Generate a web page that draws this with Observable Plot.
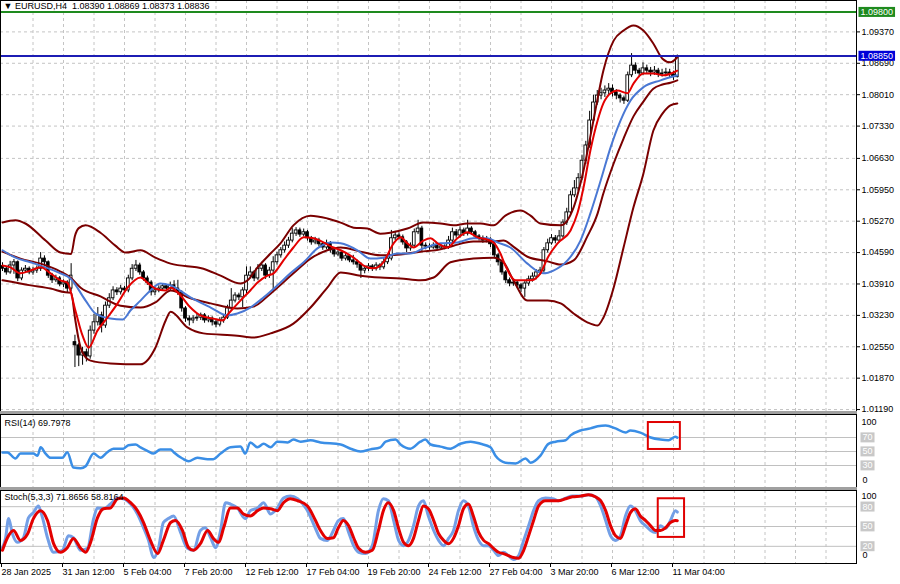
<!DOCTYPE html>
<html><head><meta charset="utf-8">
<script src="https://cdn.jsdelivr.net/npm/d3@7"></script>
<script src="https://cdn.jsdelivr.net/npm/@observablehq/plot@0.6"></script>
<style>
body{margin:0;background:#fff;}
#chart{position:relative;width:900px;height:584px;overflow:hidden;background:#fff;font-family:"Liberation Sans",Arial,sans-serif;}
#chart svg{position:absolute;left:0;}
.sep{position:absolute;left:0;width:857px;height:3px;background:#a0a0a0;}
</style></head><body><div id="chart"></div>
<script>
// ---------- DATA ----------
const titleText = "\u25BC EURUSD,H4\u00a0\u00a01.08390 1.08869 1.08373 1.08836";
const rsiTitle = "RSI(14) 69.7978";
const stochTitle = "Stoch(5,3,3) 71.8656 58.8164";

const priceTicks = [1.0119,1.0187,1.0255,1.0323,1.0391,1.0459,1.0527,1.0595,1.0663,1.0733,1.0801,1.0869,1.0937];
const labelBars = [0,16,32,48,64,80,96,112,128,144,160,176];
const timeLabels = ["28 Jan 2025","31 Jan 12:00","5 Feb 04:00","7 Feb 20:00","12 Feb 12:00","17 Feb 04:00","19 Feb 20:00","24 Feb 12:00","27 Feb 04:00","3 Mar 20:00","6 Mar 12:00","11 Mar 04:00"];
const gridBars = [8,16,24,32,40,48,56,64,72,80,88,96,104,112,120,128,136,144,152,160,168,176,184,192,200,208,216];

const levelLines = [{v:1.0980,label:"1.09800",color:"#1e8a1e"},{v:1.0885,label:"1.08850",color:"#1c1cb4"}];
const labelBoxColors = {"1.09800":"#1e8a1e","1.08850":"#0000d8"};

const opens = [
1.0430,1.0424,1.0416,1.0431,1.0438,1.0403,1.0420,1.0424,1.0416,1.0420,
1.0424,1.0446,1.0438,1.0409,1.0399,1.0403,1.0390,1.0394,1.0381,1.0265,
1.0258,1.0236,1.0243,1.0234,1.0290,1.0308,1.0323,1.0301,1.0344,1.0360,
1.0377,1.0373,1.0381,1.0377,1.0403,1.0424,1.0431,1.0416,1.0403,1.0394,
1.0373,1.0377,1.0381,1.0386,1.0381,1.0388,1.0381,1.0373,1.0338,1.0316,
1.0312,1.0316,1.0318,1.0323,1.0312,1.0316,1.0308,1.0303,1.0312,1.0318,
1.0338,1.0355,1.0366,1.0362,1.0377,1.0409,1.0416,1.0403,1.0424,1.0431,
1.0409,1.0420,1.0438,1.0453,1.0464,1.0474,1.0485,1.0500,1.0507,1.0498,
1.0503,1.0490,1.0481,1.0485,1.0477,1.0470,1.0479,1.0464,1.0455,1.0459,
1.0446,1.0451,1.0442,1.0438,1.0433,1.0420,1.0424,1.0429,1.0424,1.0431,
1.0427,1.0438,1.0446,1.0490,1.0496,1.0492,1.0481,1.0468,1.0474,1.0503,
1.0511,1.0474,1.0472,1.0470,1.0474,1.0468,1.0472,1.0470,1.0485,1.0503,
1.0496,1.0507,1.0500,1.0511,1.0503,1.0494,1.0490,1.0485,1.0487,1.0477,
1.0453,1.0438,1.0416,1.0399,1.0392,1.0394,1.0388,1.0381,1.0392,1.0401,
1.0407,1.0416,1.0420,1.0464,1.0479,1.0490,1.0485,1.0494,1.0524,1.0546,
1.0583,1.0598,1.0620,1.0658,1.0691,1.0745,1.0784,1.0799,1.0804,1.0810,
1.0814,1.0806,1.0799,1.0793,1.0788,1.0843,1.0864,1.0853,1.0847,1.0858,
1.0853,1.0849,1.0853,1.0845,1.0847,1.0849,1.0845,1.0839];
const highs = [
1.0437,1.0429,1.0440,1.0444,1.0441,1.0426,1.0431,1.0428,1.0427,1.0430,
1.0459,1.0452,1.0441,1.0414,1.0410,1.0407,1.0400,1.0398,1.0435,1.0280,
1.0262,1.0254,1.0250,1.0300,1.0325,1.0340,1.0330,1.0352,1.0370,1.0385,
1.0383,1.0388,1.0386,1.0410,1.0433,1.0442,1.0436,1.0420,1.0408,1.0398,
1.0384,1.0387,1.0392,1.0390,1.0395,1.0398,1.0399,1.0376,1.0342,1.0322,
1.0322,1.0326,1.0328,1.0327,1.0322,1.0320,1.0313,1.0318,1.0324,1.0345,
1.0381,1.0372,1.0371,1.0383,1.0428,1.0428,1.0420,1.0433,1.0438,1.0435,
1.0427,1.0450,1.0460,1.0470,1.0482,1.0492,1.0511,1.0513,1.0512,1.0510,
1.0507,1.0494,1.0492,1.0490,1.0481,1.0486,1.0483,1.0468,1.0465,1.0463,
1.0458,1.0455,1.0453,1.0443,1.0437,1.0431,1.0435,1.0433,1.0437,1.0435,
1.0446,1.0455,1.0507,1.0505,1.0502,1.0497,1.0485,1.0480,1.0510,1.0529,
1.0516,1.0480,1.0478,1.0480,1.0478,1.0477,1.0476,1.0494,1.0512,1.0509,
1.0515,1.0512,1.0529,1.0515,1.0507,1.0498,1.0495,1.0494,1.0491,1.0481,
1.0457,1.0442,1.0420,1.0404,1.0401,1.0398,1.0392,1.0398,1.0408,1.0415,
1.0422,1.0427,1.0470,1.0488,1.0498,1.0496,1.0507,1.0530,1.0555,1.0592,
1.0615,1.0630,1.0670,1.0700,1.0765,1.0800,1.0810,1.0815,1.0820,1.0825,
1.0822,1.0812,1.0803,1.0798,1.0850,1.0890,1.0870,1.0858,1.0870,1.0865,
1.0860,1.0862,1.0858,1.0856,1.0858,1.0856,1.0852,1.08869];
const lows = [
1.0418,1.0410,1.0412,1.0412,1.0396,1.0398,1.0414,1.0411,1.0410,1.0414,
1.0418,1.0430,1.0403,1.0392,1.0394,1.0385,1.0383,1.0372,1.0375,1.0210,
1.0212,1.0215,1.0222,1.0228,1.0282,1.0300,1.0285,1.0295,1.0338,1.0355,
1.0366,1.0367,1.0370,1.0372,1.0398,1.0418,1.0410,1.0397,1.0388,1.0365,
1.0366,1.0372,1.0376,1.0375,1.0376,1.0375,1.0366,1.0330,1.0308,1.0300,
1.0305,1.0310,1.0312,1.0306,1.0307,1.0300,1.0296,1.0298,1.0306,1.0314,
1.0333,1.0350,1.0355,1.0340,1.0370,1.0402,1.0396,1.0398,1.0418,1.0401,
1.0403,1.0372,1.0432,1.0447,1.0458,1.0468,1.0480,1.0494,1.0492,1.0493,
1.0484,1.0475,1.0476,1.0471,1.0464,1.0465,1.0458,1.0449,1.0450,1.0440,
1.0441,1.0437,1.0432,1.0425,1.0403,1.0413,1.0418,1.0418,1.0419,1.0420,
1.0422,1.0433,1.0441,1.0485,1.0486,1.0475,1.0459,1.0462,1.0470,1.0498,
1.0460,1.0465,1.0464,1.0466,1.0463,1.0464,1.0465,1.0466,1.0480,1.0490,
1.0490,1.0494,1.0495,1.0497,1.0488,1.0484,1.0479,1.0480,1.0470,1.0446,
1.0430,1.0410,1.0392,1.0385,1.0386,1.0381,1.0372,1.0362,1.0386,1.0395,
1.0400,1.0410,1.0415,1.0458,1.0475,1.0478,1.0480,1.0490,1.0518,1.0540,
1.0578,1.0592,1.0615,1.0650,1.0685,1.0740,1.0778,1.0790,1.0795,1.0800,
1.0796,1.0790,1.0783,1.0780,1.0784,1.0838,1.0845,1.0838,1.0842,1.0846,
1.0840,1.0843,1.0838,1.0839,1.0840,1.0838,1.0832,1.08373];
const closes = [
1.0424,1.0416,1.0431,1.0438,1.0403,1.0420,1.0424,1.0416,1.0420,1.0424,
1.0446,1.0438,1.0409,1.0399,1.0403,1.0390,1.0394,1.0381,1.0409,1.0258,
1.0236,1.0243,1.0234,1.0290,1.0308,1.0323,1.0301,1.0344,1.0360,1.0377,
1.0373,1.0381,1.0377,1.0403,1.0424,1.0431,1.0416,1.0403,1.0394,1.0373,
1.0377,1.0381,1.0386,1.0381,1.0388,1.0381,1.0373,1.0338,1.0316,1.0312,
1.0316,1.0318,1.0323,1.0312,1.0316,1.0308,1.0303,1.0312,1.0318,1.0338,
1.0355,1.0366,1.0362,1.0377,1.0409,1.0416,1.0403,1.0424,1.0431,1.0409,
1.0420,1.0438,1.0453,1.0464,1.0474,1.0485,1.0500,1.0507,1.0498,1.0503,
1.0490,1.0481,1.0485,1.0477,1.0470,1.0479,1.0464,1.0455,1.0459,1.0446,
1.0451,1.0442,1.0438,1.0433,1.0420,1.0424,1.0429,1.0424,1.0431,1.0427,
1.0438,1.0446,1.0490,1.0496,1.0492,1.0481,1.0468,1.0474,1.0503,1.0511,
1.0474,1.0472,1.0470,1.0474,1.0468,1.0472,1.0470,1.0485,1.0503,1.0496,
1.0507,1.0500,1.0511,1.0503,1.0494,1.0490,1.0485,1.0487,1.0477,1.0453,
1.0438,1.0416,1.0399,1.0392,1.0394,1.0388,1.0381,1.0392,1.0401,1.0407,
1.0416,1.0420,1.0464,1.0479,1.0490,1.0485,1.0494,1.0524,1.0546,1.0583,
1.0598,1.0620,1.0658,1.0691,1.0745,1.0784,1.0799,1.0804,1.0810,1.0814,
1.0806,1.0799,1.0793,1.0788,1.0843,1.0864,1.0853,1.0847,1.0858,1.0853,
1.0849,1.0853,1.0845,1.0847,1.0849,1.0845,1.0839,1.08836];

// indicator lines: [bar, value]
const bbUpper = [[0,1.0524],[3.4,1.0529],[6,1.0522],[11.3,1.0485],[15.2,1.0459],[18,1.0456],[19,1.0495],[20,1.0512],[21.8,1.0518],[25.7,1.0502],[29.6,1.0474],[32.3,1.0459],[36.2,1.0464],[40.1,1.0448],[44.1,1.0435],[52.7,1.0424],[57.2,1.0409],[62.4,1.0392],[64.3,1.0399],[66.9,1.0427],[70.3,1.0457],[72.9,1.0479],[76.3,1.0518],[80.8,1.0539],[85.2,1.0533],[88.7,1.0524],[92.1,1.0513],[95.7,1.0511],[99.1,1.0500],[101.7,1.0502],[106.2,1.0511],[110.4,1.0524],[114.9,1.0522],[118.3,1.0518],[121.9,1.0522],[125.4,1.0522],[128.8,1.0518],[131.9,1.0539],[135.9,1.0550],[138.5,1.0539],[141.1,1.0522],[146.4,1.0518],[149.8,1.0557],[152.4,1.0637],[155,1.0745],[157.6,1.0853],[160.3,1.0918],[162.9,1.0940],[165.5,1.0951],[168.1,1.0940],[170.7,1.0912],[173.1,1.0879],[175.2,1.0871],[177,1.0882]];
const bbMiddle = [[0,1.0461],[4.7,1.0446],[10,1.0435],[15.2,1.0418],[17.8,1.0405],[20.5,1.0383],[25.7,1.0364],[31,1.0344],[36.2,1.0340],[40.1,1.0351],[44.1,1.0377],[49.3,1.0360],[54.6,1.0349],[61.6,1.0338],[65.8,1.0342],[70.3,1.0370],[76.3,1.0414],[80.8,1.0446],[85.2,1.0464],[88.7,1.0470],[93.9,1.0461],[99.1,1.0453],[104.4,1.0455],[109.6,1.0461],[114.9,1.0466],[118.3,1.0474],[123.5,1.0483],[128.8,1.0483],[131.4,1.0485],[134,1.0472],[137.7,1.0450],[143,1.0440],[146.4,1.0433],[149.8,1.0442],[153.4,1.0494],[156.1,1.0544],[157.6,1.0587],[160.3,1.0652],[162.9,1.0706],[165.5,1.0754],[168.1,1.0786],[170.7,1.0814],[173.1,1.0823],[175.2,1.0827],[177,1.0832]];
const bbLower = [[0,1.0399],[7.4,1.0388],[12.6,1.0381],[16.5,1.0373],[18,1.0372],[19,1.0318],[20,1.0270],[21,1.0242],[23.1,1.0225],[28.3,1.0219],[36.2,1.0217],[40.1,1.0253],[42.8,1.0312],[44.1,1.0331],[48.5,1.0297],[52.7,1.0284],[61.6,1.0279],[65.8,1.0275],[70.3,1.0284],[76.3,1.0305],[80.8,1.0340],[85.2,1.0383],[88.7,1.0416],[93.9,1.0409],[99.1,1.0405],[104.4,1.0403],[109.6,1.0399],[113.1,1.0405],[117.5,1.0438],[123.5,1.0446],[128.8,1.0448],[131.4,1.0438],[134,1.0399],[137.7,1.0355],[143,1.0355],[146.4,1.0349],[149.8,1.0327],[153.4,1.0308],[156.1,1.0301],[157.6,1.0318],[160.3,1.0383],[162.9,1.0470],[165.5,1.0557],[168.1,1.0630],[170.7,1.0723],[173.1,1.0760],[175.2,1.0778],[177,1.0782]];
const redMA = [[0,1.0431],[2.1,1.0427],[4.7,1.0414],[7.3,1.0420],[10,1.0427],[12.6,1.0414],[15.2,1.0399],[17,1.0394],[19.1,1.0334],[21,1.0279],[22.6,1.0253],[24.9,1.0290],[27.5,1.0318],[30.2,1.0349],[32.8,1.0383],[36.2,1.0405],[38,1.0394],[40.1,1.0381],[42.8,1.0377],[44.1,1.0383],[46.7,1.0366],[49.3,1.0340],[51.9,1.0323],[55.3,1.0316],[57.7,1.0312],[59.3,1.0327],[62.4,1.0355],[65,1.0377],[66.9,1.0394],[69.5,1.0409],[71.1,1.0414],[73.7,1.0442],[76.3,1.0470],[79,1.0492],[81.6,1.0490],[84.2,1.0481],[86.8,1.0470],[88.7,1.0464],[92.1,1.0448],[94.7,1.0431],[97.3,1.0425],[99.9,1.0438],[102.6,1.0479],[104.4,1.0492],[106.2,1.0479],[107.8,1.0470],[110.4,1.0485],[112.3,1.0490],[114.1,1.0479],[116.7,1.0470],[119.3,1.0490],[122,1.0503],[124.6,1.0492],[127.2,1.0487],[128.8,1.0481],[130.6,1.0457],[131.9,1.0431],[134.6,1.0399],[138.5,1.0399],[141.1,1.0414],[143,1.0448],[145.6,1.0479],[149,1.0507],[150.8,1.0544],[152.4,1.0600],[154.2,1.0680],[156.1,1.0745],[157.6,1.0782],[159.5,1.0804],[161.3,1.0810],[163.9,1.0804],[165.5,1.0825],[168.1,1.0847],[170.7,1.0847],[173.4,1.0843],[176,1.0849],[177,1.0853]];
const blueMA = [[0,1.0464],[3.4,1.0448],[7.3,1.0438],[11.3,1.0427],[15.2,1.0414],[17.8,1.0403],[21.8,1.0355],[24.4,1.0327],[28.3,1.0316],[31.5,1.0314],[33.6,1.0334],[36.2,1.0355],[38.8,1.0377],[41.4,1.0392],[44.1,1.0388],[49.3,1.0362],[54.6,1.0340],[59,1.0323],[61.6,1.0327],[65,1.0340],[68.5,1.0362],[72.1,1.0388],[75.5,1.0414],[79,1.0438],[82.6,1.0468],[86,1.0481],[88.7,1.0479],[93.1,1.0464],[96.5,1.0446],[99.9,1.0448],[103.6,1.0457],[107,1.0457],[110.4,1.0468],[114.9,1.0479],[119.3,1.0481],[123.5,1.0490],[127.2,1.0490],[129.8,1.0481],[133.2,1.0470],[137.7,1.0435],[141.9,1.0414],[144.5,1.0420],[148.2,1.0442],[151.6,1.0485],[154.2,1.0544],[156.9,1.0615],[159.5,1.0687],[162.1,1.0745],[164.7,1.0788],[168.1,1.0817],[172.6,1.0832],[177,1.0843]];

const rsiLevels = [30,50,70];
const rsi = [[0,48.6],[1.3,48.6],[3.4,40],[4.7,47],[8.1,47],[9.2,44],[10,56],[11.3,47],[12.6,41],[15.7,41],[17,49],[18.6,27],[20.5,26],[21.8,29],[23.9,47],[25.7,41],[27.5,49],[29.1,54],[31.7,54],[33,59],[34.9,60],[36.2,56],[38,51],[39.6,47],[41.4,53],[44.1,53],[44.9,49],[47.2,40],[48.8,36],[51.1,41],[53.8,39],[55.3,39],[57.2,47],[59.8,56],[62.4,57],[63.7,47],[65,63],[66.9,56],[68.5,61],[70.3,56],[72.1,64],[74.8,63],[76.3,67],[78.2,64],[80.8,66],[83.4,63],[88.7,60],[91.3,54],[93.9,50],[96.5,53],[99.1,56],[100.5,64],[103.1,67],[104.4,60],[107,54],[109.6,64],[110.9,67],[112.3,60],[114.9,57],[117.5,54],[120.1,61],[122.8,64],[125.4,61],[128,56],[129.3,44],[130.6,37],[131.9,34],[134.6,33],[137.2,40],[138.5,34],[141.1,44],[143.2,61],[145.1,64],[147.7,66],[149,73],[151.6,80],[154.2,83],[156.1,86],[158.2,87],[160.8,83],[163.4,77],[164.7,80],[167.3,77],[170,70],[172.6,67],[174.7,66],[176.5,71],[177,69.8]];

const stochLevels = [20,50,80];
const stochK = [[0,18],[0.8,32],[1.6,62],[2.6,39],[3.9,26],[5.5,33],[6.8,63],[8.1,71],[9.4,81],[10.5,63],[11.8,33],[13.4,11],[15.7,14],[17.3,36],[18.6,33],[20.5,14],[22.3,17],[23.9,62],[24.9,78],[26.5,77],[28.3,84],[30.2,93],[31.7,92],[33.6,84],[35.4,69],[37,48],[38.3,29],[39.6,3],[40.9,17],[42.2,56],[43.5,62],[44.9,66],[46.7,41],[48.5,17],[50.1,14],[51.9,44],[53.2,48],[54.6,33],[55.9,18],[57.2,44],[58.5,86],[59.8,84],[61.6,78],[63.7,62],[65,74],[66.9,78],[68.5,86],[70.3,69],[72.1,78],[73.7,93],[75.5,96],[77.4,92],[80,74],[82.1,47],[83.4,32],[85.2,29],[86.8,44],[88.1,59],[89.4,62],[90.8,41],[92.1,21],[93.4,11],[95.2,9],[97,21],[98.6,74],[99.9,92],[101.2,89],[102.6,59],[103.9,29],[105.2,21],[106.5,29],[107.8,51],[109.1,81],[110.4,89],[111.7,66],[113.1,44],[114.4,29],[115.7,21],[117,32],[118.3,44],[119.6,74],[120.9,89],[122.2,81],[123.5,51],[124.9,29],[126.2,21],[127.5,21],[128.8,14],[130.1,6],[131.4,11],[132.7,6],[134,0],[135.4,6],[136.7,29],[138,51],[139.3,74],[140.6,89],[142.4,93],[144.3,92],[145.8,89],[147.7,93],[149.5,96],[151.6,96],[153.7,98],[155.5,95],[156.9,81],[158.2,59],[159.5,36],[160.8,29],[162.1,36],[163.4,66],[164.7,81],[166,74],[167.3,59],[168.7,51],[170,44],[171.3,41],[172.6,51],[173.9,47],[175.2,59],[176.5,74],[177,71.9]];
const stochD = [[0,14],[1.3,33],[2.9,44],[4.7,29],[6.6,39],[8.1,62],[10,74],[11.8,59],[13.4,24],[15.2,11],[17,18],[18.6,32],[20.5,17],[21.8,11],[23.1,26],[24.9,63],[26.5,77],[28.3,78],[30.2,92],[31.7,93],[33.6,86],[35.4,74],[37,56],[38.8,29],[40.7,9],[42.2,29],[44.1,56],[45.4,59],[47.2,44],[48.8,18],[50.1,14],[51.9,24],[53.8,44],[55.3,32],[56.7,26],[58,48],[59.8,78],[61.6,78],[63.2,69],[65,66],[66.9,74],[68.5,78],[70.3,77],[72.1,74],[73.7,86],[75.5,92],[77.4,89],[80,81],[82.1,59],[83.4,44],[85.2,32],[86.8,33],[88.1,48],[89.4,59],[90.8,51],[92.1,33],[93.4,17],[95.2,11],[97,14],[98.6,44],[99.9,74],[101.2,86],[102.6,74],[103.9,47],[105.2,26],[106.5,21],[107.8,32],[109.1,59],[110.4,81],[111.7,77],[113.1,59],[114.4,39],[115.7,29],[117,24],[118.3,32],[119.6,51],[120.9,77],[122.2,84],[123.5,66],[124.9,41],[126.2,29],[127.5,24],[128.8,17],[130.1,11],[131.4,9],[132.7,6],[134,3],[135.4,2],[136.7,14],[138,36],[139.3,59],[140.6,81],[142.4,89],[144.3,89],[145.8,89],[147.7,92],[149.5,95],[151.6,96],[153.7,98],[155.5,95],[156.9,89],[158.2,74],[159.5,51],[160.8,36],[162.1,32],[163.4,51],[164.7,71],[166,77],[167.3,66],[168.7,59],[170,51],[171.3,44],[172.6,44],[173.9,48],[175.2,56],[176.5,59],[177,58.8]];

const rsiHighlight = [{x1:169.4,x2:177.8,y1:52.9,y2:91.4}];
const stochHighlight = [{x1:172,x2:178.9,y1:33.5,y2:92}];

// ---------- CHART ----------
const X_DOMAIN = [-0.525, 224];
const FONT = "'Liberation Sans', Arial, sans-serif";
const GRID = {stroke:"#c4c4c4", strokeOpacity:1, strokeDasharray:"3,3", strokeWidth:1};
const pts = arr => arr.map(([b,v]) => ({b, v}));
const candles = closes.map((c,i) => ({i, o:opens[i], h:highs[i], l:lows[i], c}));
const labelMap = new Map(labelBars.map((b,k) => [b, timeLabels[k]]));
const baseStyle = {background:"white", fontFamily:FONT, fontSize:"9px", overflow:"visible", color:"black"};

const main = Plot.plot({
  width:900, height:411, marginLeft:0, marginRight:44, marginTop:0, marginBottom:0,
  style: baseStyle,
  x:{domain:X_DOMAIN, axis:null},
  y:{domain:[1.01148, 1.1005], axis:null},
  marks:[
    Plot.gridY(priceTicks, GRID),
    Plot.gridX(gridBars, GRID),
    Plot.ruleX(candles, {x:"i", y1:"l", y2:"h", stroke:"black", strokeWidth:1}),
    Plot.rect(candles, {x1:d=>d.i-0.36, x2:d=>d.i+0.36, y1:d=>Math.min(d.o,d.c), y2:d=>Math.max(d.o,d.c)+(d.o===d.c?0.00008:0),
      fill:d=>d.c>=d.o?"white":"black", stroke:"black", strokeWidth:0.9}),
    Plot.line(pts(bbUpper), {x:"b", y:"v", stroke:"#7a0000", strokeWidth:2, curve:"monotone-x"}),
    Plot.line(pts(bbLower), {x:"b", y:"v", stroke:"#7a0000", strokeWidth:2, curve:"monotone-x"}),
    Plot.line(pts(bbMiddle), {x:"b", y:"v", stroke:"#7a0000", strokeWidth:2, curve:"monotone-x"}),
    Plot.line(pts(blueMA), {x:"b", y:"v", stroke:"#4a78d4", strokeWidth:2, curve:"monotone-x"}),
    Plot.line(pts(redMA), {x:"b", y:"v", stroke:"#e30000", strokeWidth:2, curve:"monotone-x"}),
    Plot.ruleY(levelLines, {y:"v", stroke:"color", strokeWidth:2}),
    Plot.frame({stroke:"black"}),
    Plot.axisY(priceTicks, {anchor:"right", tickFormat:d=>d.toFixed(5), tickSize:3, tickPadding:2, label:null, fontSize:9}),
    Plot.text(levelLines, {frameAnchor:"right", y:"v", text:"label", dx:4, textAnchor:"start", fill:"white", fontSize:9}),
    Plot.text([titleText], {frameAnchor:"top-left", dx:3, dy:2, fontSize:9, fill:"black"})
  ]
});

const rsiPlot = Plot.plot({
  width:900, height:73, marginLeft:0, marginRight:44, marginTop:0, marginBottom:0,
  style: baseStyle,
  x:{domain:X_DOMAIN, axis:null},
  y:{domain:[-1.43, 102.86], axis:null},
  marks:[
    Plot.gridX(gridBars, GRID),
    Plot.ruleY(rsiLevels, {stroke:"#c0c0c0", strokeWidth:1}),
    Plot.line(pts(rsi), {x:"b", y:"v", stroke:"#3a8ee6", strokeWidth:2.5, curve:"monotone-x"}),
    Plot.rect(rsiHighlight, {x1:"x1", x2:"x2", y1:"y1", y2:"y2", fill:"none", stroke:"#e00000", strokeWidth:2}),
    Plot.frame({stroke:"black"}),
    Plot.text(rsiLevels, {frameAnchor:"right", y:d=>d, text:d=>String(d), dx:6, textAnchor:"start", fill:"white", fontSize:9}),
    Plot.text([100], {frameAnchor:"right", y:d=>d, text:d=>String(d), dx:5, dy:6, textAnchor:"start", fill:"black", fontSize:9}),
    Plot.text([0], {frameAnchor:"right", y:d=>d, text:d=>String(d), dx:6, dy:-6, textAnchor:"start", fill:"black", fontSize:9}),
    Plot.text([rsiTitle], {frameAnchor:"top-left", dx:4, dy:5, fontSize:9, fill:"black"})
  ]
});

const stochPlot = Plot.plot({
  width:900, height:94, marginLeft:0, marginRight:44, marginTop:0, marginBottom:21,
  style: baseStyle,
  x:{domain:X_DOMAIN, axis:null},
  y:{domain:[-6, 104.5], axis:null},
  marks:[
    Plot.gridX(gridBars, GRID),
    Plot.ruleY(stochLevels, {stroke:"#c0c0c0", strokeWidth:1}),
    Plot.line(pts(stochK), {x:"b", y:"v", stroke:"#739fe6", strokeWidth:3, curve:"monotone-x"}),
    Plot.line(pts(stochD), {x:"b", y:"v", stroke:"#e30000", strokeWidth:3, curve:"monotone-x"}),
    Plot.rect(stochHighlight, {x1:"x1", x2:"x2", y1:"y1", y2:"y2", fill:"none", stroke:"#e00000", strokeWidth:2}),
    Plot.frame({stroke:"black"}),
    Plot.axisX(labelBars, {anchor:"bottom", tickFormat:d=>labelMap.get(d), textAnchor:"start", tickSize:4, tickPadding:1, dx:-1, label:null, fontSize:9}),
    Plot.text(stochLevels, {frameAnchor:"right", y:d=>d, text:d=>String(d), dx:6, textAnchor:"start", fill:"white", fontSize:9}),
    Plot.text([100], {frameAnchor:"right", y:d=>d, text:d=>String(d), dx:5, dy:3, textAnchor:"start", fill:"black", fontSize:9}),
    Plot.text([0], {frameAnchor:"right", y:d=>d, text:d=>String(d), dx:6, dy:-4, textAnchor:"start", fill:"black", fontSize:9}),
    Plot.text([stochTitle], {frameAnchor:"top-left", dx:4, dy:3, fontSize:9, fill:"black"})
  ]
});

const root = document.getElementById("chart");
function place(svg, top){ svg.style.top = top + "px"; root.appendChild(svg); }
place(main, 0);
const s1 = document.createElement("div"); s1.className="sep"; s1.style.top="411px"; root.appendChild(s1);
place(rsiPlot, 414);
const s2 = document.createElement("div"); s2.className="sep"; s2.style.top="487px"; root.appendChild(s2);
place(stochPlot, 490);

function boxTexts(svg, colors){
  svg.querySelectorAll("text").forEach(t => {
    const c = colors[t.textContent];
    if (!c || t.getAttribute("data-boxed")) return;
    if (t.closest("g") && t.closest("g").getAttribute("fill") !== "white") return;
    const bb = t.getBBox();
    const r = document.createElementNS("http://www.w3.org/2000/svg","rect");
    r.setAttribute("x", bb.x - 2); r.setAttribute("y", bb.y);
    r.setAttribute("width", bb.width + 4); r.setAttribute("height", bb.height);
    r.setAttribute("fill", c);
    const tr = t.getAttribute("transform"); if (tr) r.setAttribute("transform", tr);
    t.setAttribute("data-boxed","1");
    t.parentNode.insertBefore(r, t);
  });
}
boxTexts(main, labelBoxColors);
boxTexts(rsiPlot, {"70":"#c8c8c8","50":"#c8c8c8","30":"#c8c8c8"});
boxTexts(stochPlot, {"80":"#c8c8c8","50":"#c8c8c8","20":"#c8c8c8"});
</script></body></html>
